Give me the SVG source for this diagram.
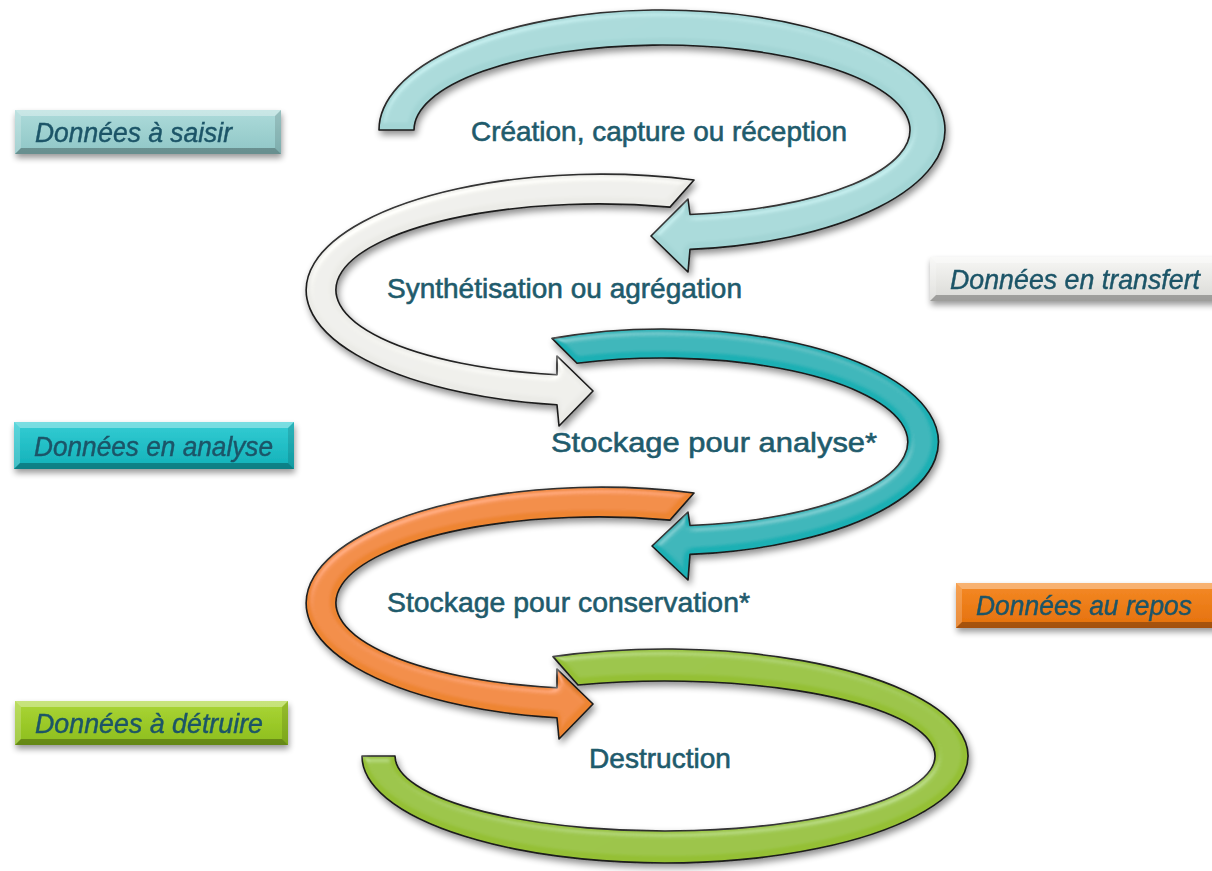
<svg xmlns="http://www.w3.org/2000/svg" width="1212" height="871" viewBox="0 0 1212 871">
<defs>
<style>
.arrow{stroke:#1a1a1a;stroke-width:1.6;stroke-linejoin:round;filter:url(#bev)}
.a1{fill:#a3d5d5}
.a2{fill:#ebebe7}
.a3{fill:#1cb0b4}
.a4{fill:#ee8532}
.a5{fill:#95c035}
.box{filter:url(#boxsh)}
.ft{fill:#fff;fill-opacity:.35}
.fl{fill:#fff;fill-opacity:.2}
.fr{fill:#000;fill-opacity:.12}
.fb{fill:#000;fill-opacity:.28}
.lab{font-family:"Liberation Sans",Arial,sans-serif;font-style:italic;font-size:27px;fill:#1b5467;stroke:#1b5467;stroke-width:.4}
.step{font-family:"Liberation Sans",Arial,sans-serif;font-size:28px;fill:#1f5b6c;stroke:#1f5b6c;stroke-width:.6}
</style>
<filter id="bev" x="-10%" y="-10%" width="120%" height="130%">
<feGaussianBlur in="SourceAlpha" stdDeviation="3.5" result="blur"/>
<feOffset in="blur" dx="2" dy="4" result="off"/>
<feComponentTransfer in="off" result="shadow"><feFuncA type="linear" slope="0.45"/></feComponentTransfer>
<feSpecularLighting in="blur" surfaceScale="4" specularConstant="0.6" specularExponent="25" lighting-color="#ffffff" result="spec"><fePointLight x="-3000" y="-6000" z="9000"/></feSpecularLighting>
<feComposite in="spec" in2="SourceAlpha" operator="in" result="specIn"/>
<feComposite in="SourceGraphic" in2="specIn" operator="arithmetic" k1="0" k2="1" k3="0.3" k4="0" result="lit"/>
<feMerge><feMergeNode in="shadow"/><feMergeNode in="lit"/></feMerge>
</filter>
<filter id="boxsh" x="-10%" y="-30%" width="120%" height="170%">
<feGaussianBlur in="SourceAlpha" stdDeviation="3"/>
<feOffset dx="1" dy="4" result="o"/>
<feComponentTransfer in="o" result="s"><feFuncA type="linear" slope="0.4"/></feComponentTransfer>
<feMerge><feMergeNode in="s"/><feMergeNode in="SourceGraphic"/></feMerge>
</filter>
<linearGradient id="g1" x1="0" y1="0" x2="0" y2="1"><stop offset="0" stop-color="#addbda"/><stop offset="1" stop-color="#8fc6c6"/></linearGradient>
<linearGradient id="g2" x1="0" y1="0" x2="0" y2="1"><stop offset="0" stop-color="#f7f7f5"/><stop offset="1" stop-color="#dadad6"/></linearGradient>
<linearGradient id="g3" x1="0" y1="0" x2="0" y2="1"><stop offset="0" stop-color="#34cdd4"/><stop offset="1" stop-color="#12b0b8"/></linearGradient>
<linearGradient id="g4" x1="0" y1="0" x2="0" y2="1"><stop offset="0" stop-color="#f58a26"/><stop offset="1" stop-color="#e4700c"/></linearGradient>
<linearGradient id="g5" x1="0" y1="0" x2="0" y2="1"><stop offset="0" stop-color="#abd636"/><stop offset="1" stop-color="#8cbd1c"/></linearGradient>
</defs>
<rect width="1212" height="871" fill="#ffffff"/>

<g id="connectors">
<path id="arrow-creation" class="arrow a1" d="M 379,130 A 283 120 0 1 1 690,249.4 L 688,272 L 651,236 L 688,199 L 690,214.5 A 248 85 0 1 0 414,130 Z"/>
<path id="arrow-synthese" class="arrow a2" d="M 694,180 A 295 116 0 1 0 557,404.8 L 559,426 L 593,391 L 557,356 L 557,374.8 A 263 86 0 1 1 670,207.1 Z"/>
<path id="arrow-analyse" class="arrow a3" d="M 552,338.4 A 276 113 0 1 1 690,554.4 L 688,580 L 652,546 L 688,512 L 690,525.5 A 246 84 0 1 0 577,363.2 Z"/>
<path id="arrow-conservation" class="arrow a4" d="M 694,493 A 295 116 0 1 0 557,717.8 L 559,739 L 593,704 L 557,669 L 557,687.8 A 263 86 0 1 1 670,520.1 Z"/>
<path id="arrow-destruction" class="arrow a5" d="M 553,656.6 A 303 107 0 1 1 362,756 L 395,756 A 270 75 0 1 0 578,685 Z"/>
</g>

<g id="step-creation"><text class="step" x="471" y="141" textLength="376" lengthAdjust="spacingAndGlyphs">Création, capture ou réception</text></g>
<g id="step-synthese"><text class="step" x="387" y="298" textLength="355" lengthAdjust="spacingAndGlyphs">Synthétisation ou agrégation</text></g>
<g id="step-analyse"><text class="step" x="551" y="452" textLength="326" lengthAdjust="spacingAndGlyphs">Stockage pour analyse*</text></g>
<g id="step-conservation"><text class="step" x="387" y="612" textLength="363" lengthAdjust="spacingAndGlyphs">Stockage pour conservation*</text></g>
<g id="step-destruction"><text class="step" x="589" y="768" textLength="142" lengthAdjust="spacingAndGlyphs">Destruction</text></g>

<g id="box-saisir" class="box">
<rect x="15" y="110" width="266" height="44" fill="url(#g1)"/>
<polygon class="ft" points="15,110 281,110 275,116 21,116"/>
<polygon class="fl" points="15,110 21,116 21,148 15,154"/>
<polygon class="fr" points="281,110 281,154 275,148 275,116"/>
<polygon class="fb" points="15,154 281,154 275,148 21,148"/>
<text class="lab" x="35" y="142" textLength="197" lengthAdjust="spacingAndGlyphs">Données à saisir</text>
</g>

<g id="box-transfert" class="box">
<rect x="930" y="257" width="290" height="44" fill="url(#g2)"/>
<polygon class="ft" points="930,257 1220,257 1214,263 936,263"/>
<polygon class="fl" points="930,257 936,263 936,295 930,301"/>
<polygon class="fb" points="930,301 1220,301 1214,295 936,295"/>
<text class="lab" x="950" y="289" textLength="250" lengthAdjust="spacingAndGlyphs">Données en transfert</text>
</g>

<g id="box-analyse" class="box">
<rect x="14" y="422" width="280" height="47" fill="url(#g3)"/>
<polygon class="ft" points="14,422 294,422 288,428 20,428"/>
<polygon class="fl" points="14,422 20,428 20,463 14,469"/>
<polygon class="fr" points="294,422 294,469 288,463 288,428"/>
<polygon class="fb" points="14,469 294,469 288,463 20,463"/>
<text class="lab" x="34" y="456" textLength="239" lengthAdjust="spacingAndGlyphs">Données en analyse</text>
</g>

<g id="box-repos" class="box">
<rect x="956" y="583" width="270" height="45" fill="url(#g4)"/>
<polygon class="ft" points="956,583 1226,583 1220,589 962,589"/>
<polygon class="fl" points="956,583 962,589 962,622 956,628"/>
<polygon class="fb" points="956,628 1226,628 1220,622 962,622"/>
<text class="lab" x="976" y="615" textLength="216" lengthAdjust="spacingAndGlyphs">Données au repos</text>
</g>

<g id="box-detruire" class="box">
<rect x="15" y="701" width="273" height="44" fill="url(#g5)"/>
<polygon class="ft" points="15,701 288,701 282,707 21,707"/>
<polygon class="fl" points="15,701 21,707 21,739 15,745"/>
<polygon class="fr" points="288,701 288,745 282,739 282,707"/>
<polygon class="fb" points="15,745 288,745 282,739 21,739"/>
<text class="lab" x="35" y="733" textLength="228" lengthAdjust="spacingAndGlyphs">Données à détruire</text>
</g>
</svg>
